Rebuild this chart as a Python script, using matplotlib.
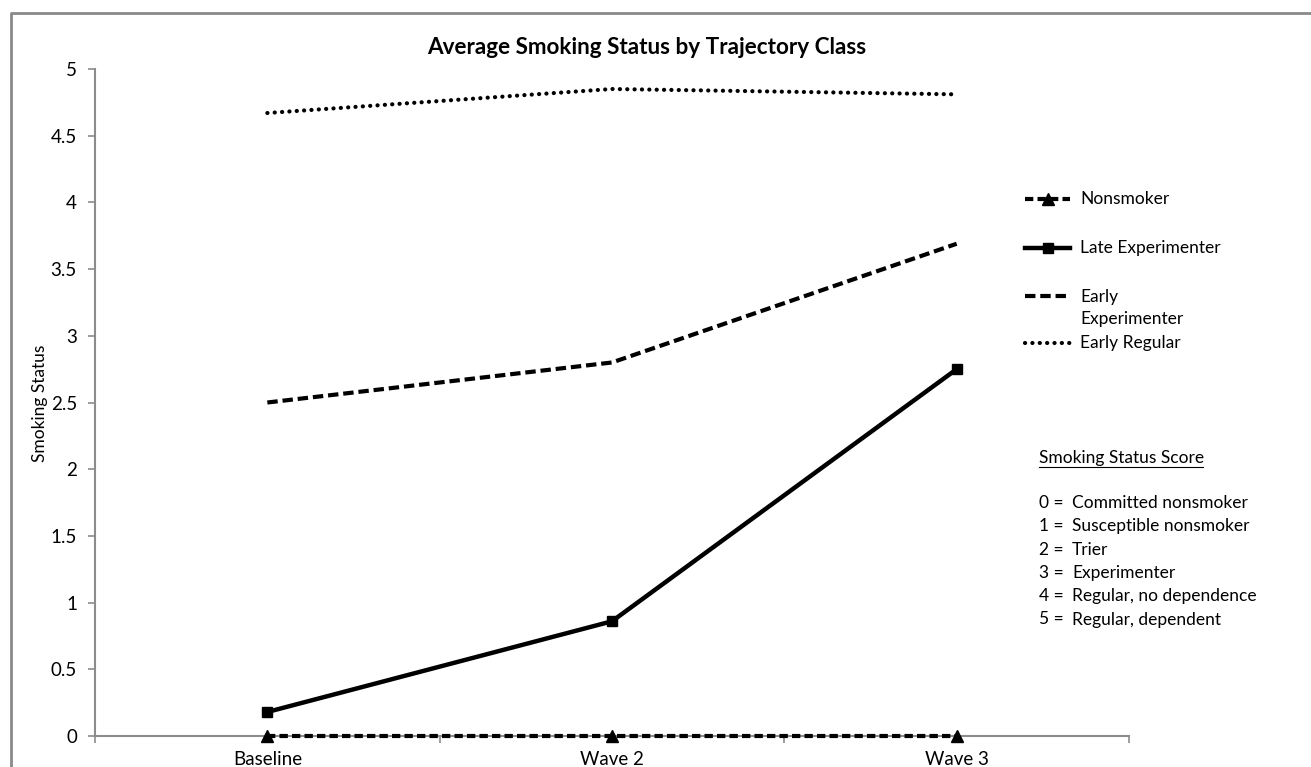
import matplotlib
matplotlib.use("Agg")
import matplotlib.pyplot as plt
from matplotlib.lines import Line2D

plt.rcParams["font.family"] = ["Lato", "DejaVu Sans"]
plt.rcParams["lines.scale_dashes"] = False

# ---------------------------------------------------------------------------
# Data
# ---------------------------------------------------------------------------
WAVES = ["Baseline", "Wave 2", "Wave 3"]
NONSMOKER = [0.0, 0.0, 0.0]
LATE_EXPERIMENTER = [0.18, 0.86, 2.75]
EARLY_EXPERIMENTER = [2.50, 2.80, 3.69]
EARLY_REGULAR = [4.67, 4.85, 4.81]

LEGEND_LABELS = ["Nonsmoker", "Late Experimenter", "Early\nExperimenter", "Early Regular"]
SCORE_TITLE = "Smoking Status Score"
SCORE_NUMS = ["0 =", "1 =", "2 =", "3 =", "4 =", "5 ="]
SCORE_TEXT = ["Committed nonsmoker", "Susceptible nonsmoker", "Trier",
              "Experimenter", "Regular, no dependence", "Regular, dependent"]
Y_TICKS = [0, 0.5, 1, 1.5, 2, 2.5, 3, 3.5, 4, 4.5, 5]

W, H = 1311, 767
fig = plt.figure(figsize=(W / 100, H / 100), dpi=100)


def fx(px):
    return px / W


def fy(py):
    return 1 - py / H


ax = fig.add_axes([fx(95), fy(736), fx(1129) - fx(95), fy(69) - fy(736)])

AXIS_GREY = "#8c8c8c"
TICK_FS = 13.5
TEXT_FS = 12.5
styles = {
    "Nonsmoker": dict(color="black", lw=3.0, dashes=(6, 3), marker="^", ms=8),
    "Late Experimenter": dict(color="black", lw=3.2, ls="-", marker="s", ms=7),
    "Early Experimenter": dict(color="black", lw=3.0, dashes=(7.5, 3.5)),
    "Early Regular": dict(color="black", lw=3.0, dashes=(0.1, 5.2),
                          dash_capstyle="round"),
}

x = list(range(len(WAVES)))
series = [
    ("Nonsmoker", NONSMOKER),
    ("Late Experimenter", LATE_EXPERIMENTER),
    ("Early Experimenter", EARLY_EXPERIMENTER),
    ("Early Regular", EARLY_REGULAR),
]
for name, vals in series:
    ax.plot(x, vals, clip_on=False, zorder=3, **styles[name])

ax.set_xlim(-0.5, len(WAVES) - 0.5)
ax.set_ylim(0, 5)
ax.set_yticks(Y_TICKS)
ax.set_yticklabels([f"{v:g}" for v in Y_TICKS], fontsize=TICK_FS)
ax.set_xticks(x)
ax.set_xticklabels(WAVES, fontsize=TICK_FS)
ax.tick_params(axis="x", which="major", length=0, pad=11)
ax.set_xticks([i - 0.5 for i in range(len(WAVES) + 1)], minor=True)
ax.tick_params(axis="x", which="minor", length=5, color=AXIS_GREY, width=1.2)
ax.tick_params(axis="y", length=5, color=AXIS_GREY, width=1.2, pad=8)

for s in ["top", "right"]:
    ax.spines[s].set_visible(False)
for s in ["left", "bottom"]:
    ax.spines[s].set_color(AXIS_GREY)
    ax.spines[s].set_linewidth(1.5)

fig.text(fx(40), fy(403), "Smoking Status", rotation=90, ha="center", va="center",
         fontsize=TEXT_FS)

fig.text(fx(647), fy(47), "Average Smoking Status by Trajectory Class",
         ha="center", va="center", fontsize=16.2, fontweight="bold")

# Legend drawn by hand to match the stacked layout
legend_rows = [199, 248, 296, 343]
legend_keys = ["Nonsmoker", "Late Experimenter", "Early Experimenter", "Early Regular"]
for key, label, row in zip(legend_keys, LEGEND_LABELS, legend_rows):
    st = dict(styles[key])
    ms = st.pop("ms", None)
    marker = st.pop("marker", None)
    fig.add_artist(Line2D([fx(1025), fx(1070)], [fy(row), fy(row)], **st))
    if marker:
        fig.add_artist(Line2D([fx(1047.5)], [fy(row)], marker=marker, ms=ms,
                              color="black", ls="none"))
    if "\n" in label:
        fig.text(fx(1080), fy(row - 7), label, ha="left", va="top",
                 fontsize=TEXT_FS, linespacing=1.5)
    else:
        fig.text(fx(1080), fy(row), label, ha="left", va="center", fontsize=TEXT_FS)

# Score key
fig.text(fx(1039), fy(458), SCORE_TITLE, ha="left", va="center", fontsize=TEXT_FS)
fig.add_artist(Line2D([fx(1039), fx(1203)], [fy(467), fy(467)], color="black", lw=0.8))
for i, (num, txt) in enumerate(zip(SCORE_NUMS, SCORE_TEXT)):
    yy = 503 + i * 23.3
    fig.text(fx(1039), fy(yy), num, ha="left", va="center", fontsize=TEXT_FS)
    fig.text(fx(1072), fy(yy), txt, ha="left", va="center", fontsize=TEXT_FS)

# Outer grey frame (runs off the right and bottom edges)
fig.add_artist(Line2D([fx(11), fx(11), 1.0], [0.0, fy(13), fy(13)],
                      color="#8a8a8a", lw=2.0))

fig.savefig("out.png", dpi=100)
